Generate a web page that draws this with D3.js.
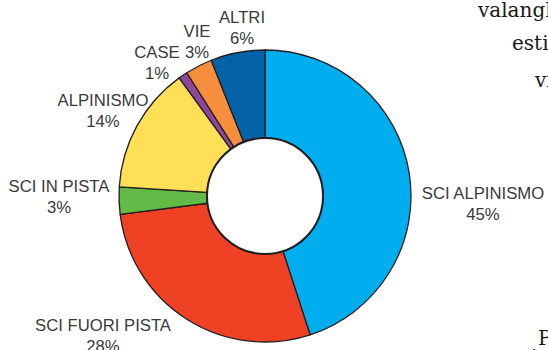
<!DOCTYPE html>
<html>
<head>
<meta charset="utf-8">
<script src="https://cdn.jsdelivr.net/npm/d3@7"></script>
<style>
  html, body { margin: 0; padding: 0; background: #fff; }
  svg { display: block; }
</style>
</head>
<body>
<svg id="chart" width="548" height="350"></svg>
<script>
// Incidenti in valanga per attività
const categories = ["SCI ALPINISMO", "SCI FUORI PISTA", "SCI IN PISTA", "ALPINISMO", "CASE", "VIE", "ALTRI"];
const values = [45, 28, 3, 14, 1, 3, 6];
const colors = ["#00adee", "#ef4124", "#62bb47", "#ffdf55", "#8d479b", "#f68e3e", "#0462a9"];

// Label placement (anchor x, first-line baseline y)
const labelLayout = [
  { x: 483, y: 199 },
  { x: 103, y: 331 },
  { x: 59,  y: 192 },
  { x: 103, y: 106 },
  { x: 157, y: 58 },
  { x: 197, y: 37 },
  { x: 242, y: 23 }
];

const svg = d3.select("#chart");
const cx = 265, cy = 196, rOuter = 146, rInner = 58;

const pie = d3.pie().sort(null).value(d => d)(values);
const arc = d3.arc().innerRadius(rInner).outerRadius(rOuter);

const g = svg.append("g").attr("transform", `translate(${cx},${cy})`);

g.selectAll("path.slice")
  .data(pie)
  .join("path")
  .attr("class", "slice")
  .attr("d", arc)
  .attr("fill", (d, i) => colors[i])
  .attr("stroke", "#231f20")
  .attr("stroke-width", 1.3)
  .attr("stroke-linejoin", "round");

g.append("circle")
  .attr("r", rInner)
  .attr("fill", "#fff")
  .attr("stroke", "#231f20")
  .attr("stroke-width", 2);

// Category labels with percentages
const labelFont = "'Liberation Sans', Arial, sans-serif";
const lineH = 21;
const labels = svg.append("g")
  .attr("font-family", labelFont)
  .attr("font-size", 16.7)
  .attr("fill", "#3a3a3a")
  .attr("text-anchor", "middle");

categories.forEach((name, i) => {
  const p = labelLayout[i];
  const t = labels.append("text").attr("x", p.x).attr("y", p.y);
  t.append("tspan").attr("x", p.x).text(name);
  t.append("tspan").attr("x", p.x).attr("dy", lineH).text(values[i] + "%");
});

// Fragments of the article text running along the right edge
const body = svg.append("g")
  .attr("font-family", "'DejaVu Serif', serif")
  .attr("font-size", 20)
  .attr("fill", "#1a1718");
body.append("text").attr("x", 478).attr("y", 17).text("valanghe");
body.append("text").attr("x", 512).attr("y", 50).text("estive");
body.append("text").attr("x", 535).attr("y", 87).text("vi");
body.append("text").attr("x", 538).attr("y", 345).text("P");
body.append("text").attr("x", 531).attr("y", 364).text("i");
</script>
</body>
</html>
